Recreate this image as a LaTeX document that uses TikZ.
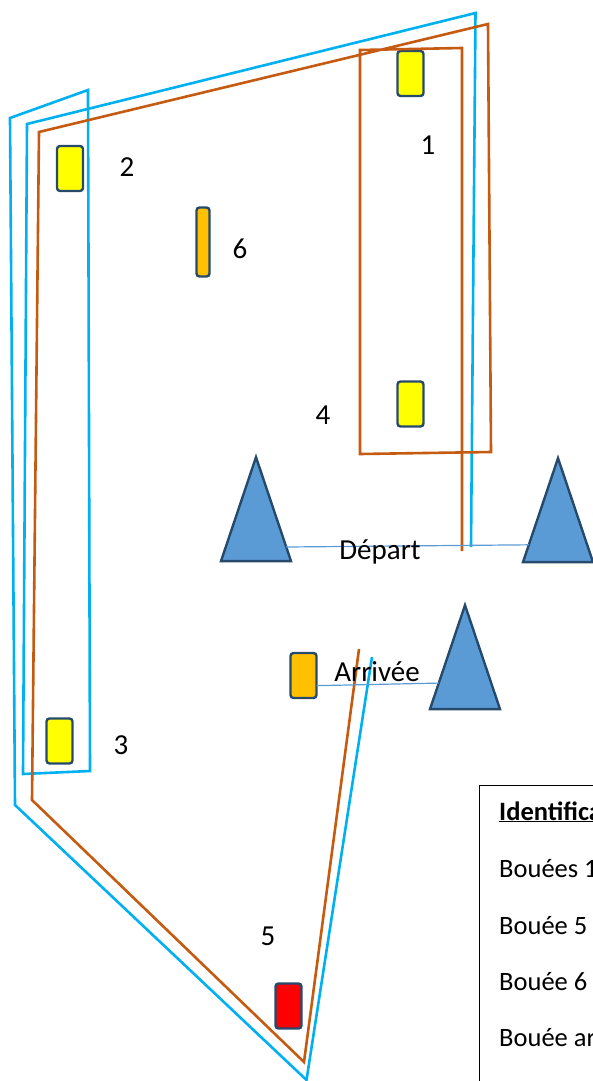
\documentclass[tikz,border=0pt]{standalone}
\usepackage{fontspec}
\setmainfont{Carlito}
\usetikzlibrary{shapes.geometric}
\definecolor{bleuvif}{HTML}{00B0F0}
\definecolor{brique}{HTML}{C55A11}
\definecolor{bleucone}{HTML}{5B9BD5}
\definecolor{bord}{HTML}{264A6B}
\definecolor{ambre}{HTML}{FFC000}
\definecolor{jaune}{HTML}{FFFF00}
\definecolor{rouge}{HTML}{FF0000}
\tikzset{
    bouee/.style={draw=bord, line width=2.4pt, rounded corners=3pt, inner sep=0pt, outer sep=0pt, minimum width=26pt, minimum height=45pt},
    cone/.style={isosceles triangle, isosceles triangle stretches, shape border rotate=90, draw=bord, line width=2.4pt, fill=bleucone, inner sep=0pt, outer sep=0pt, minimum width=70pt, minimum height=104pt},
    numero/.style={font=\fontsize{29}{34}\selectfont, inner sep=0pt},
    legende/.style={font=\fontsize{26.5}{32}\selectfont, anchor=base west, inner sep=0pt},
    tour/.style={line width=2.6pt},
    ligne/.style={draw=bleucone, line width=1.2pt}
}

\begin{document}
\begin{tikzpicture}[x=1pt,y=-1pt]
    \useasboundingbox (0,0) rectangle (593,1081);
    \node[bouee, fill=jaune] at (410.5,73.5) (B1) {};
    \node[bouee, fill=jaune] at (70,168.5) (B2) {};
    \node[bouee, fill=jaune] at (59.5,741) (B3) {};
    \node[bouee, fill=jaune] at (410.5,404) (B4) {};
    \node[bouee, fill=rouge] at (288.5,1006) (B5) {};
    \node[bouee, fill=ambre, minimum width=13pt, minimum height=69pt] at (203,242) (B6) {};
    \node[bouee, fill=ambre] at (303.5,675.5) (BA) {};
    \node[cone] at (256,536) (CG) {};
    \node[cone] at (558,537) (CD) {};
    \node[cone] at (465,684) (CA) {};
    \draw[tour, draw=bleuvif] (471,547) -- (475.5,13) -- (27,124) -- (23,774) -- (90,771) -- (88,90) -- (10,118) -- (15,805) -- (306.5,1080) -- (372,657);
    \draw[tour, draw=brique] (462,551) -- (462,48) -- (360,50) -- (360,454) -- (491,452) -- (488,24) -- (39,132) -- (32,800) -- (304,1062) -- (359,649);
    \draw[ligne] (CG.-20) -- (CD.195);
    \draw[ligne] (BA.-38) -- (CA.178);
    \node[numero] at (428,145) (N1) {1};
    \node[numero] at (127,167) (N2) {2};
    \node[numero] at (121,745) (N3) {3};
    \node[numero] at (323,415) (N4) {4};
    \node[numero] at (268,936) (N5) {5};
    \node[numero] at (240,249) (N6) {6};
    \node[numero] at (380,551.5) (TD) {Départ};
    \node[numero] at (377,671.5) (TA) {Arrivée};
    \draw[line width=1pt] (640,785) -- (479.5,785) -- (479.5,1100);
    \node[legende] at (499,820) (L0) {\textbf{\underline{Identifica}}};
    \node[legende] at (499,877.5) (L1) {Bouées 1};
    \node[legende] at (499,934) (L2) {Bouée 5};
    \node[legende] at (499,990) (L3) {Bouée 6};
    \node[legende] at (499,1046) (L4) {Bouée ar};
\end{tikzpicture}
\end{document}
